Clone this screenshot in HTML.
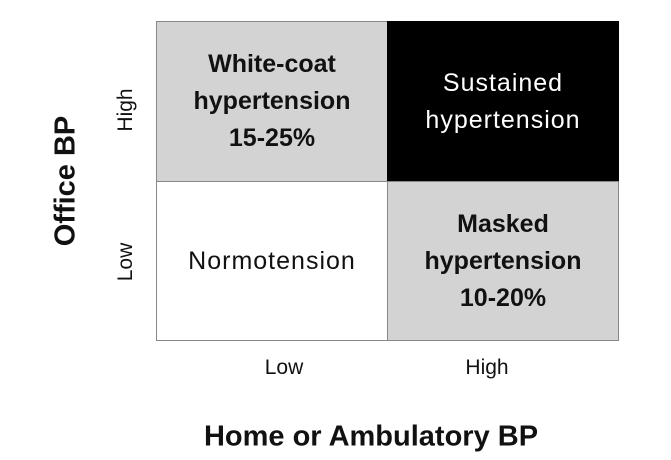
<!DOCTYPE html><html><head><style>
body{margin:0;width:671px;height:460px;background:#fff;position:relative;overflow:hidden;font-family:"Liberation Sans",sans-serif;color:#111}
.c{position:absolute;box-sizing:border-box;border:1px solid #888;display:flex;align-items:center;justify-content:center;text-align:center;font-size:25px;line-height:37px;letter-spacing:1px}
.b{font-weight:bold;letter-spacing:0}
.t{position:absolute;white-space:nowrap}
</style></head><body>
<div class="c b" style="left:156px;top:21px;width:232px;height:161px;background:#d3d3d3">White-coat<br>hypertension<br>15-25%</div>
<div class="c" style="left:387px;top:21px;width:232px;height:161px;background:#000;color:#fff;border-color:#000">Sustained<br>hypertension</div>
<div class="c" style="left:156px;top:181px;width:232px;height:160px;background:#fff">Normotension</div>
<div class="c b" style="left:387px;top:181px;width:232px;height:160px;background:#d3d3d3">Masked<br>hypertension<br>10-20%</div>
<div class="t" style="left:284px;top:368px;transform:translate(-50%,-50%);font-size:21px">Low</div>
<div class="t" style="left:487px;top:368px;transform:translate(-50%,-50%);font-size:21px">High</div>
<div class="t b" style="left:371px;top:437px;transform:translate(-50%,-50%);font-size:29px">Home or Ambulatory BP</div>
<div class="t b" style="left:66px;top:181px;transform:translate(-50%,-50%) rotate(-90deg);font-size:29px">Office BP</div>
<div class="t" style="left:126px;top:110px;transform:translate(-50%,-50%) rotate(-90deg);font-size:21px">High</div>
<div class="t" style="left:126px;top:262px;transform:translate(-50%,-50%) rotate(-90deg);font-size:21px">Low</div>
</body></html>
